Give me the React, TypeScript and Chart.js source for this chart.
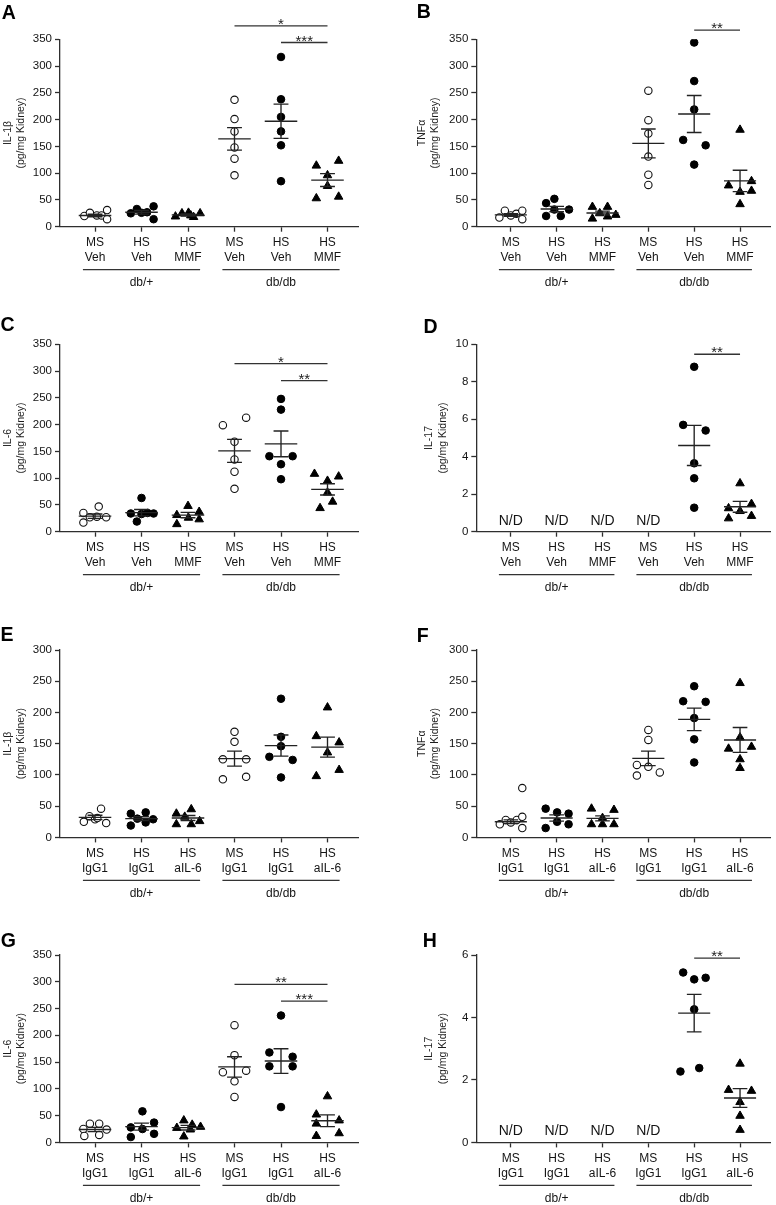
import React, { useEffect, useRef } from 'react';
import { Chart, registerables } from 'chart.js';

Chart.register(...registerables);

const FONT = '"Liberation Sans", Arial, Helvetica, sans-serif';
Chart.defaults.font.family = FONT;

// ---------- shared labels ----------
const GROUP_LABELS = ['db/+', 'db/db'];
const TICKS_MMF = [['MS', 'Veh'], ['HS', 'Veh'], ['HS', 'MMF'], ['MS', 'Veh'], ['HS', 'Veh'], ['HS', 'MMF']];
const TICKS_IL6 = [['MS', 'IgG1'], ['HS', 'IgG1'], ['HS', 'aIL-6'], ['MS', 'IgG1'], ['HS', 'IgG1'], ['HS', 'aIL-6']];

// ---------- Panel A : IL-1β (MMF) ----------
const A_VALUES = [
  [20, 26, 21, 21, 31, 14],
  [25, 33, 26, 27, 38, 14],
  [19, 25, 26, 18, 25, 21],
  [237, 201, 178, 148, 127, 96],
  [317, 238, 205, 178, 152, 85],
  [114, 123, 96, 76, 53, 56],
];
const A_JITTER = [
  [-0.23, -0.11, 0.04, 0.14, 0.26, 0.26],
  [-0.23, -0.1, 0, 0.12, 0.26, 0.26],
  [-0.27, -0.13, 0.01, 0.12, 0.26, 0.06],
  [0, 0, 0, 0, 0, 0],
  [0, 0, 0, 0, 0, 0],
  [-0.24, 0.24, 0, 0, -0.24, 0.24],
];
const A_MEAN = [21, 27, 22, 164, 197, 87];
const A_SEM = [2.5, 3.5, 2, 21, 32, 12];
const A_SIG: [number, number, number, string][] = [[3, 5, 375, '*'], [4, 5, 344, '***']];

// ---------- Panel B : TNFα (MMF) ----------
const B_VALUES = [
  [17, 30, 21, 24, 30, 14],
  [44, 52, 32, 20, 20, 32],
  [37, 37, 15, 25, 19, 22],
  [254, 199, 174, 131, 97, 78],
  [344, 272, 219, 162, 152, 116],
  [181, 77, 85, 65, 67, 42],
];
const B_JITTER = [
  [-0.25, -0.13, 0, 0.12, 0.25, 0.25],
  [-0.23, -0.05, -0.05, -0.23, 0.09, 0.27],
  [-0.22, 0.11, -0.22, -0.06, 0.11, 0.29],
  [0, 0, 0, 0, 0, 0],
  [0, 0, 0, -0.24, 0.25, 0],
  [0, -0.25, 0.25, 0, 0.25, 0],
];
const B_MEAN = [22, 33, 25.5, 155.5, 210.5, 85.5];
const B_SEM = [2.5, 5, 3.5, 27, 34.5, 20];
const B_SIG: [number, number, number, string][] = [[4, 5, 367, '**']];

// ---------- Panel C : IL-6 (MMF) ----------
const C_VALUES = [
  [35, 17, 27, 28, 47, 27],
  [34, 19, 63, 33, 35, 34],
  [14, 48, 31, 26, 37, 23],
  [199, 213, 168, 135, 112, 80],
  [248, 228, 141, 141, 126, 98],
  [108, 95, 103, 73, 44, 56],
];
const C_JITTER = [
  [-0.25, -0.25, -0.11, 0.04, 0.08, 0.24],
  [-0.23, -0.1, 0, 0, 0.13, 0.26],
  [-0.24, 0, -0.24, 0.01, 0.24, 0.24],
  [-0.25, 0.25, 0, 0, 0, 0],
  [0, 0, -0.25, 0.25, 0, 0],
  [-0.28, 0, 0.24, 0, -0.16, 0.11],
];
const C_MEAN = [29, 35.5, 31, 151, 164, 79];
const C_SEM = [4, 6, 5, 21.5, 24, 10.5];
const C_SIG: [number, number, number, string][] = [[3, 5, 314, '*'], [4, 5, 282, '**']];

// ---------- Panel D : IL-17 (MMF) ----------
const D_VALUES = [[], [], [], [], [8.8, 5.7, 5.4, 3.65, 2.85, 1.28], [2.58, 1.25, 1.48, 1.1, 0.71, 0.84]];
const D_JITTER = [[], [], [], [], [0, -0.24, 0.25, 0, 0, 0], [0, -0.25, 0.25, 0, -0.25, 0.25]];
const D_MEAN = [null, null, null, null, 4.6, 1.33];
const D_SEM = [null, null, null, null, 1.07, 0.29];
const D_SIG: [number, number, number, string][] = [[4, 5, 9.47, '**']];
const D_ND = [0, 1, 2, 3];

// ---------- Panel E : IL-1β (anti-IL-6) ----------
const E_VALUES = [
  [25, 34, 29, 46, 31, 23],
  [38, 19, 30, 40, 24, 29],
  [38, 21, 33, 45, 21, 26],
  [169, 153, 125, 125, 93, 97],
  [222, 161, 146, 129, 124, 96],
  [208, 162, 152, 136, 98, 108],
];
const E_JITTER = [
  [-0.24, -0.12, 0, 0.13, 0.05, 0.24],
  [-0.23, -0.23, -0.09, 0.09, 0.09, 0.25],
  [-0.25, -0.25, -0.07, 0.07, 0.07, 0.25],
  [0, 0, -0.25, 0.25, -0.25, 0.25],
  [0, 0, 0, -0.25, 0.25, 0],
  [0, -0.24, 0.25, 0, -0.24, 0.25],
];
const E_MEAN = [32, 30, 31, 126, 147, 144.5];
const E_SEM = [3.5, 3, 4, 12, 17, 16];
const E_SIG: [number, number, number, string][] = [];

// ---------- Panel F : TNFα (anti-IL-6) ----------
const F_VALUES = [
  [79, 21, 28, 24, 28, 33, 15],
  [46, 15, 40, 25, 38, 21],
  [46, 21, 31, 21, 44, 21],
  [172, 156, 116, 113, 104, 99],
  [242, 218, 217, 191, 157, 120],
  [247, 160, 142, 145, 125, 111],
];
const F_JITTER = [
  [0.25, -0.24, -0.11, 0, 0.13, 0.25, 0.25],
  [-0.24, -0.24, 0.01, 0.01, 0.26, 0.26],
  [-0.24, -0.24, 0, 0, 0.25, 0.25],
  [0, 0, -0.25, 0, 0.25, -0.25],
  [0, -0.24, 0.25, 0, 0, 0],
  [0, 0, -0.25, 0.25, 0, 0],
];
const F_MEAN = [25, 31, 30.5, 126.5, 189, 156];
const F_SEM = [3, 5, 4, 11.5, 18, 20];
const F_SIG: [number, number, number, string][] = [];

// ---------- Panel G : IL-6 (anti-IL-6) ----------
const G_VALUES = [
  [25, 12, 35, 35, 14, 24],
  [28, 10, 58, 25, 37, 16],
  [27, 41, 11, 33, 29, 24],
  [219, 163, 131, 134, 114, 85],
  [237, 168, 160, 142, 142, 66],
  [86, 52, 35, 41, 12, 17],
];
const G_JITTER = [
  [-0.25, -0.23, -0.11, 0.09, 0.09, 0.25],
  [-0.23, -0.23, 0.02, 0.02, 0.27, 0.27],
  [-0.24, -0.09, -0.09, 0.09, 0.27, 0.05],
  [0, 0, -0.25, 0.25, 0, 0],
  [0, -0.25, 0.25, -0.25, 0.25, 0],
  [0, -0.24, -0.24, 0.25, -0.24, 0.25],
];
const G_MEAN = [24, 29.5, 27.5, 141, 152, 40.5];
const G_SEM = [4, 6.5, 4.3, 19, 23, 11];
const G_SIG: [number, number, number, string][] = [[3, 5, 295, '**'], [4, 5, 264, '***']];

// ---------- Panel H : IL-17 (anti-IL-6) ----------
const H_VALUES = [[], [], [], [], [5.44, 5.22, 5.27, 4.26, 2.27, 2.38], [2.52, 1.68, 1.65, 1.29, 0.85, 0.4]];
const H_JITTER = [[], [], [], [], [-0.24, 0, 0.25, 0, -0.3, 0.11], [0, -0.25, 0.25, 0, 0, 0]];
const H_MEAN = [null, null, null, null, 4.14, 1.42];
const H_SEM = [null, null, null, null, 0.6, 0.3];
const H_SIG: [number, number, number, string][] = [[4, 5, 5.9, '**']];
const H_ND = [0, 1, 2, 3];

// ---------- layout ----------
const ROW_TOP = [0, 305, 610, 915];
const ROW_H = [305, 305, 305, 290];
const ROW_PLOT_TOP = [39.3, 39.3, 40, 40];
const PLOT_H = 187.4;
const COL_LEFT = [0, 388];
const COL_YW = [60, 88.3];
const COL_PADR = [30, 1.3];
const X_MIN = -0.753;
const X_MAX = 5.656;

const MARKERS = [
  { style: 'circle', r: 3.7, bg: '#ffffff', bd: '#111111', bw: 1.1 },
  { style: 'circle', r: 3.8, bg: '#000000', bd: '#000000', bw: 1 },
  { style: 'triangle', r: 4.9, bg: '#000000', bd: '#000000', bw: 1 },
];

type PanelCfg = {
  letter: string; row: number; col: number;
  values: number[][]; jitter: number[][];
  mean: (number | null)[]; sem: (number | null)[];
  sig: [number, number, number, string][]; nd: number[];
  yMax: number; yStep: number; title: string; labels: string[][];
  titlePad: number; lx: number; ly: number;
};

const PANELS: PanelCfg[] = [
  { letter: 'A', row: 0, col: 0, values: A_VALUES, jitter: A_JITTER, mean: A_MEAN, sem: A_SEM, sig: A_SIG, nd: [], yMax: 350, yStep: 50, title: 'IL-1β', labels: TICKS_MMF, titlePad: 1.6, lx: 1.7, ly: 19.3 },
  { letter: 'B', row: 0, col: 1, values: B_VALUES, jitter: B_JITTER, mean: B_MEAN, sem: B_SEM, sig: B_SIG, nd: [], yMax: 350, yStep: 50, title: 'TNFα', labels: TICKS_MMF, titlePad: 27.6, lx: 28.8, ly: 18.3 },
  { letter: 'C', row: 1, col: 0, values: C_VALUES, jitter: C_JITTER, mean: C_MEAN, sem: C_SEM, sig: C_SIG, nd: [], yMax: 350, yStep: 50, title: 'IL-6', labels: TICKS_MMF, titlePad: 1.6, lx: 0.6, ly: 25.7 },
  { letter: 'D', row: 1, col: 1, values: D_VALUES, jitter: D_JITTER, mean: D_MEAN, sem: D_SEM, sig: D_SIG, nd: D_ND, yMax: 10, yStep: 2, title: 'IL-17', labels: TICKS_MMF, titlePad: 35, lx: 35.4, ly: 28.3 },
  { letter: 'E', row: 2, col: 0, values: E_VALUES, jitter: E_JITTER, mean: E_MEAN, sem: E_SEM, sig: E_SIG, nd: [], yMax: 300, yStep: 50, title: 'IL-1β', labels: TICKS_IL6, titlePad: 1.6, lx: 0.6, ly: 30.7 },
  { letter: 'F', row: 2, col: 1, values: F_VALUES, jitter: F_JITTER, mean: F_MEAN, sem: F_SEM, sig: F_SIG, nd: [], yMax: 300, yStep: 50, title: 'TNFα', labels: TICKS_IL6, titlePad: 27.6, lx: 28.8, ly: 31.7 },
  { letter: 'G', row: 3, col: 0, values: G_VALUES, jitter: G_JITTER, mean: G_MEAN, sem: G_SEM, sig: G_SIG, nd: [], yMax: 350, yStep: 50, title: 'IL-6', labels: TICKS_IL6, titlePad: 1.6, lx: 0.8, ly: 32.3 },
  { letter: 'H', row: 3, col: 1, values: H_VALUES, jitter: H_JITTER, mean: H_MEAN, sem: H_SEM, sig: H_SIG, nd: H_ND, yMax: 6, yStep: 2, title: 'IL-17', labels: TICKS_IL6, titlePad: 35, lx: 34.7, ly: 31.7 },
];

const AXIS_COLOR = '#2e2e2e';
const TEXT_COLOR = '#141414';

function makeDecor(p: PanelCfg) {
  return {
    id: 'decor' + p.letter,
    afterDatasetsDraw(chart: any) {
      const { ctx, scales } = chart;
      const x = scales.x, y = scales.y;
      ctx.save();
      ctx.strokeStyle = '#222222';
      ctx.lineWidth = 1.35;
      p.mean.forEach((m, i) => {
        if (m == null) return;
        const s = p.sem[i] as number;
        const cx = x.getPixelForValue(i);
        const mw = x.getPixelForValue(i + 0.35) - cx;
        const cw = x.getPixelForValue(i + 0.16) - cx;
        const ym = y.getPixelForValue(m);
        const yu = y.getPixelForValue(m + s);
        const yl = y.getPixelForValue(m - s);
        ctx.beginPath();
        ctx.moveTo(cx - mw, ym); ctx.lineTo(cx + mw, ym);
        ctx.moveTo(cx - cw, yu); ctx.lineTo(cx + cw, yu);
        ctx.moveTo(cx - cw, yl); ctx.lineTo(cx + cw, yl);
        ctx.moveTo(cx, yu); ctx.lineTo(cx, yl);
        ctx.stroke();
      });
      ctx.restore();
    },
    afterDraw(chart: any) {
      const { ctx, scales, chartArea } = chart;
      const x = scales.x, y = scales.y;
      const bottom = chartArea.bottom;
      ctx.save();
      // group underlines + labels
      GROUP_LABELS.forEach((lab, g) => {
        const x0 = x.getPixelForValue(3 * g - 0.26);
        const x1 = x.getPixelForValue(3 * g + 2 + 0.26);
        const ly = bottom + 43;
        ctx.strokeStyle = '#333333';
        ctx.lineWidth = 1.3;
        ctx.beginPath(); ctx.moveTo(x0, ly); ctx.lineTo(x1, ly); ctx.stroke();
        ctx.fillStyle = TEXT_COLOR;
        ctx.font = `12px ${FONT}`;
        ctx.textAlign = 'center';
        ctx.textBaseline = 'middle';
        ctx.fillText(lab, (x0 + x1) / 2, bottom + 56);
      });
      // significance bars
      p.sig.forEach(([a, b, v, stars]) => {
        const x0 = x.getPixelForValue(a);
        const x1 = x.getPixelForValue(b);
        const yy = y.getPixelForValue(v);
        ctx.strokeStyle = '#333333';
        ctx.lineWidth = 1.3;
        ctx.beginPath(); ctx.moveTo(x0, yy); ctx.lineTo(x1, yy); ctx.stroke();
        ctx.fillStyle = '#222222';
        ctx.font = `15px ${FONT}`;
        ctx.textAlign = 'center';
        ctx.textBaseline = 'alphabetic';
        ctx.fillText(stars, (x0 + x1) / 2, yy + 3);
      });
      // N/D
      p.nd.forEach((i) => {
        ctx.fillStyle = TEXT_COLOR;
        ctx.font = `14px ${FONT}`;
        ctx.textAlign = 'center';
        ctx.textBaseline = 'middle';
        ctx.fillText('N/D', x.getPixelForValue(i), bottom - 11);
      });
      // panel letter
      ctx.fillStyle = '#000000';
      ctx.font = `bold 19.5px ${FONT}`;
      ctx.textAlign = 'left';
      ctx.textBaseline = 'alphabetic';
      ctx.fillText(p.letter, p.lx, p.ly);
      ctx.restore();
    },
  };
}

function Panel({ p }: { p: PanelCfg }) {
  const ref = useRef<HTMLCanvasElement>(null);
  const h = ROW_H[p.row];
  const plotTop = ROW_PLOT_TOP[p.row];
  const xh = h - plotTop - PLOT_H;
  const yw = COL_YW[p.col];

  useEffect(() => {
    if (!ref.current) return;
    const datasets = p.values.map((vals, g) => {
      const mk = MARKERS[g % 3];
      return {
        label: p.labels[g].join(' '),
        data: vals.map((v, k) => ({ x: g + p.jitter[g][k], y: v })),
        pointStyle: mk.style,
        pointRadius: mk.r,
        pointBackgroundColor: mk.bg,
        pointBorderColor: mk.bd,
        pointBorderWidth: mk.bw,
        showLine: false,
      };
    });
    const chart = new Chart(ref.current, {
      type: 'scatter',
      data: { datasets } as any,
      options: {
        animation: false,
        responsive: false,
        devicePixelRatio: 1,
        events: [],
        layout: { padding: { top: plotTop, left: 0, right: COL_PADR[p.col], bottom: 0 } },
        plugins: { legend: { display: false }, tooltip: { enabled: false }, title: { display: false } },
        scales: {
          x: {
            type: 'linear',
            min: X_MIN,
            max: X_MAX,
            afterBuildTicks: (s: any) => { s.ticks = [0, 1, 2, 3, 4, 5].map((v) => ({ value: v })); },
            afterFit: (s: any) => { s.height = xh; },
            border: { display: true, color: AXIS_COLOR, width: 1.3 },
            grid: { display: true, drawOnChartArea: false, drawTicks: true, tickLength: 5, color: AXIS_COLOR, tickColor: AXIS_COLOR, tickWidth: 1.3 },
            ticks: {
              autoSkip: false,
              maxRotation: 0,
              minRotation: 0,
              padding: 3.5,
              color: TEXT_COLOR,
              font: { size: 12, lineHeight: 1.25, family: FONT },
              callback: (v: any) => p.labels[Math.round(Number(v))],
            },
          },
          y: {
            type: 'linear',
            min: 0,
            max: p.yMax,
            afterFit: (s: any) => { s.width = yw; },
            border: { display: true, color: AXIS_COLOR, width: 1.3 },
            grid: { display: true, drawOnChartArea: false, drawTicks: true, tickLength: 5, color: AXIS_COLOR, tickColor: AXIS_COLOR, tickWidth: 1.3 },
            ticks: { stepSize: p.yStep, padding: 3, color: TEXT_COLOR, font: { size: 11.5, family: FONT } },
            title: {
              display: true,
              text: [p.title, '(pg/mg Kidney)'],
              color: '#1e1e1e',
              font: { size: 10.5, lineHeight: 1.25, family: FONT },
              padding: { top: p.titlePad, bottom: 0 },
            },
          },
        },
      } as any,
      plugins: [makeDecor(p)],
    });
    return () => chart.destroy();
  }, []);

  return (
    <canvas
      ref={ref}
      width={388}
      height={h}
      style={{ position: 'absolute', left: COL_LEFT[p.col], top: ROW_TOP[p.row], width: 388, height: h }}
    />
  );
}

export default function App() {
  return (
    <div style={{ position: 'absolute', left: 0, top: 0, width: 776, height: 1205, overflow: 'hidden', background: '#ffffff' }}>
      {PANELS.map((p) => (
        <Panel key={p.letter} p={p} />
      ))}
    </div>
  );
}
